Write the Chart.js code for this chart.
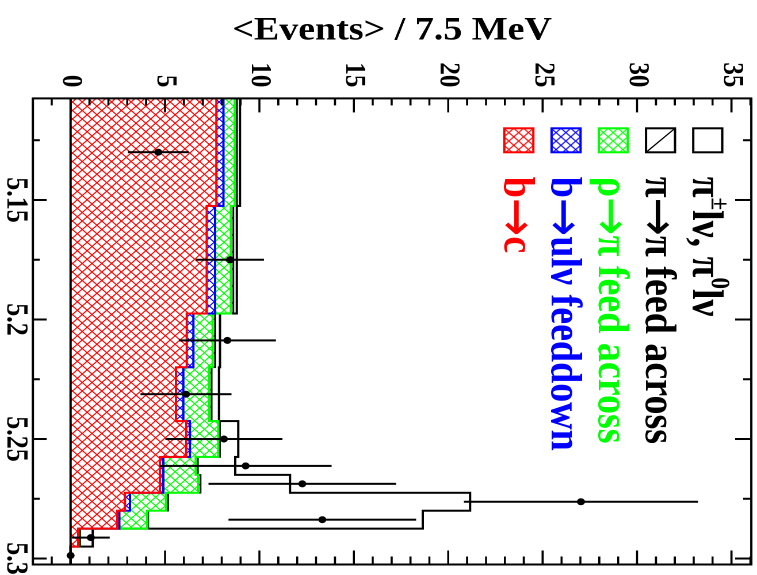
<!DOCTYPE html>
<html>
<head>
<meta charset="utf-8">
<title>&lt;Events&gt; / 7.5 MeV</title>
<script src="https://cdn.jsdelivr.net/npm/chart.js@4.4.1/dist/chart.umd.min.js"></script>
<style>
  html, body { margin: 0; padding: 0; background: #fff; overflow: hidden; }
  body { width: 757px; height: 575px; position: relative; }
  /* the plot is drawn upright (mass along x) and then turned a quarter clockwise,
     slightly stretched along the screen x, like the original picture */
  #wrap { position: absolute; left: 0; top: 0; width: 575px; height: 658px;
          transform-origin: 0 0; transform: translate(757px, 0) scaleX(1.1505) rotate(90deg); }
</style>
</head>
<body>
<div id="wrap"><canvas id="chart" width="575" height="658" style="width:575px;height:658px"></canvas></div>
<script>
const FONT = "'Liberation Serif', 'Times New Roman', serif";
const ARROW_FONT = "'DejaVu Sans', sans-serif";

// variable bin edges in mES (GeV)
const MASS_EDGES = [5.1075, 5.1525, 5.1975, 5.22, 5.2425, 5.2575, 5.265, 5.2725, 5.28, 5.2875, 5.295, 5.3025];

// stacked components, <events> / 7.5 MeV per bin, bottom to top
const B_TO_C      = [7.72, 7.21, 6.15, 5.58, 6.12, 4.73, 4.73, 2.88, 2.47, 0.40, 0];
const B_TO_U_FEED = [0.37, 0.44, 0.35, 0.39, 0.20, 0.18, 0.18, 0.26, 0.11, 0.02, 0];
const RHO_TO_PI   = [0.60, 0.83, 1.02, 1.38, 1.50, 1.71, 1.84, 1.91, 1.48, 0.03, 0];
const PI_TO_PI    = [0.12, 0.14, 0.13, 0.12, 0.09, 0.12, 0.13, 0.11, 0.05, 0.06, 0];
const SIGNAL      = [0.16, 0.18, 0.26, 0.39, 0.97, 1.98, 4.74, 16.00, 14.54, 0.66, 0];

// data points
const DATA_MASS = [5.13, 5.175, 5.20875, 5.23125, 5.25, 5.26125, 5.26875, 5.27625, 5.28375, 5.29125, 5.29875];
const DATA_VAL  = [4.64, 8.44, 8.30, 6.11, 8.12, 9.27, 12.27, 27.03, 13.33, 1.07, 0];
const DATA_ERR  = [1.61, 1.80, 2.57, 2.41, 3.10, 4.55, 4.97, 6.20, 4.97, 1.00, 0];

const EVENT_TICKS = [0, 5, 10, 15, 20, 25, 30, 35];
const MASS_TICKS  = [5.15, 5.2, 5.25, 5.3];
const MASS_LABELS = ['5.15', '5.2', '5.25', '5.3'];

const LEGEND_LABELS = ['π^{±}lν, π^{0}lν', 'π→π feed across', 'ρ→π feed across', 'b→ulν feeddown', 'b→c'];

const RED = '#ff0000', BLUE = '#0000ff', GREEN = '#00ff00', BLACK = '#000000';

// ROOT-like hatch fills, tile drawn at 2x and scaled back
function hatch(color, size, cross, width) {
    const t = Math.round(size * 2);
    const c = document.createElement('canvas');
    c.width = c.height = t;
    const g = c.getContext('2d');
    g.strokeStyle = color;
    g.lineWidth = width * 2;
    g.beginPath();
    for (const o of [-t, 0, t]) {
        g.moveTo(o, 0); g.lineTo(o + t, t);
        if (cross) { g.moveTo(o + t, 0); g.lineTo(o, t); }
    }
    g.stroke();
    const p = g.createPattern(c, 'repeat');
    p.setTransform(new DOMMatrix([0.5, 0, 0, 0.5, 0, 0]));
    return p;
}

const redHatch = hatch(RED, 8.5, true, 1);
const blueHatch = hatch(BLUE, 8.5, true, 1);
const greenHatch = hatch(GREEN, 8.5, true, 1);
const blackHatch = hatch(BLACK, 17, false, 1);

const stepPoints = vals => MASS_EDGES.map((m, i) => ({ x: m, y: vals[Math.min(i, vals.length - 1)] }));

function histo(label, vals, color, bg, fill, width) {
    return {
        label, data: stepPoints(vals), stack: 'mc', stepped: true,
        borderColor: color, borderWidth: width, backgroundColor: bg, fill,
        pointRadius: 0,
    };
}

// tiny TLatex: ^{..} superscripts, wide arrows
function drawRich(ctx, text, x, y, size) {
    const parts = text.split(/(\^\{[^}]*\}|→)/).filter(Boolean);
    for (const p of parts) {
        if (p.startsWith('^{')) {
            const s = p.slice(2, -1);
            ctx.font = `bold ${Math.round(size * 0.6)}px ${FONT}`;
            ctx.fillText(s, x, y - size * 0.42);
            x += ctx.measureText(s).width;
        } else if (p === '→') {
            ctx.font = `${Math.round(size * 1.2)}px ${ARROW_FONT}`;
            ctx.fillText(p, x, y + 4);
            x += ctx.measureText(p).width;
        } else {
            ctx.font = `bold ${size}px ${FONT}`;
            ctx.fillText(p, x, y);
            x += ctx.measureText(p).width;
        }
    }
}

const rootFrame = {
    id: 'rootFrame',
    afterDatasetsDraw(chart) {
        const { ctx, chartArea: a, scales: { x, y } } = chart;
        ctx.save();
        ctx.strokeStyle = BLACK;

        // histogram base line at zero
        ctx.lineWidth = 2;
        ctx.beginPath();
        ctx.moveTo(a.left, y.getPixelForValue(0));
        ctx.lineTo(a.right, y.getPixelForValue(0));
        ctx.stroke();

        // data error bars
        ctx.lineWidth = 2;
        DATA_MASS.forEach((m, i) => {
            if (!DATA_ERR[i]) return;
            const px = x.getPixelForValue(m);
            ctx.beginPath();
            ctx.moveTo(px, y.getPixelForValue(DATA_VAL[i] - DATA_ERR[i]));
            ctx.lineTo(px, y.getPixelForValue(DATA_VAL[i] + DATA_ERR[i]));
            ctx.stroke();
        });
        ctx.restore();
    },
    afterDraw(chart) {
        const { ctx, chartArea: a, scales: { x, y } } = chart;
        ctx.save();
        ctx.strokeStyle = BLACK;

        // frame
        ctx.lineWidth = 2;
        ctx.strokeRect(a.left, a.top, a.right - a.left, a.bottom - a.top);

        // ticks inside the frame on every side
        ctx.lineWidth = 1.8;
        ctx.beginPath();
        for (let v = -1; v <= 36; v++) {
            const major = EVENT_TICKS.includes(v);
            const py = y.getPixelForValue(v);
            ctx.moveTo(a.left, py); ctx.lineTo(a.left + (major ? 14 : 7), py);
            ctx.moveTo(a.right, py); ctx.lineTo(a.right - (major ? 14 : 8), py);
        }
        ctx.stroke();
        ctx.lineWidth = 2;
        ctx.beginPath();
        for (let k = 1; k <= 8; k++) {
            const m = 5.1 + k * 0.025;
            const major = MASS_TICKS.some(t => Math.abs(t - m) < 1e-6);
            const px = x.getPixelForValue(m);
            ctx.moveTo(px, a.bottom); ctx.lineTo(px, a.bottom - (major ? 12 : 6));
            ctx.moveTo(px, a.top); ctx.lineTo(px, a.top + (major ? 14 : 7));
        }
        ctx.stroke();

        // legend
        const items = [
            { fill: null, text: BLACK, line: BLACK },
            { fill: null, diag: true, text: BLACK, line: BLACK },
            { fill: greenHatch, text: GREEN, line: GREEN },
            { fill: blueHatch, text: BLUE, line: BLUE },
            { fill: redHatch, text: RED, line: RED },
        ];
        const bx = 128.3, bw = 24, bh = 25.2, top0 = 30.2, step = 41.05, tx = 176.7;
        items.forEach((it, i) => {
            const by = top0 + i * step;
            if (it.fill) {
                ctx.save();
                ctx.translate(bx, by);
                ctx.fillStyle = it.fill;
                ctx.fillRect(0, 0, bw, bh);
                ctx.restore();
            }
            ctx.strokeStyle = it.line;
            ctx.lineWidth = 2;
            ctx.strokeRect(bx, by, bw, bh);
            if (it.diag) {
                ctx.lineWidth = 1.2;
                ctx.beginPath();
                ctx.moveTo(bx, by); ctx.lineTo(bx + bw, by + bh);
                ctx.stroke();
            }
            ctx.fillStyle = it.text;
            ctx.textBaseline = 'alphabetic';
            ctx.textAlign = 'left';
            drawRich(ctx, LEGEND_LABELS[i], tx, by + bh, 38);
        });
        ctx.restore();
    },
};

new Chart(document.getElementById('chart'), {
    type: 'line',
    data: {
        datasets: [
            {
                label: 'data',
                data: DATA_MASS.map((m, i) => ({ x: m, y: DATA_VAL[i] })),
                stack: 'data', showLine: false, fill: false,
                pointRadius: 3.5, pointBackgroundColor: BLACK, pointBorderColor: BLACK, pointBorderWidth: 0,
            },
            histo('b→c', B_TO_C, RED, redHatch, 'origin', 2),
            histo('b→ulν feeddown', B_TO_U_FEED, BLUE, blueHatch, '-1', 2),
            histo('ρ→π feed across', RHO_TO_PI, GREEN, greenHatch, '-1', 2),
            histo('π→π feed across', PI_TO_PI, BLACK, blackHatch, '-1', 1.5),
            histo('π±lν, π0lν', SIGNAL, BLACK, 'rgba(0,0,0,0)', false, 2),
        ],
    },
    options: {
        responsive: false,
        animation: false,
        devicePixelRatio: 2,
        events: [],
        layout: { padding: { top: 4.95, right: 10.5, left: 0, bottom: 0 } },
        plugins: { legend: { display: false }, tooltip: { enabled: false } },
        scales: {
            x: {
                type: 'linear', min: 5.1075, max: 5.3025,
                grid: { display: false, drawTicks: false }, border: { display: false },
                afterBuildTicks: s => { s.ticks = MASS_TICKS.map(v => ({ value: v })); },
                ticks: {
                    padding: 0, color: BLACK, autoSkip: false, maxRotation: 0,
                    font: { family: FONT, size: 26, weight: 'bold' },
                    callback: (v, i) => MASS_LABELS[i],
                },
                afterFit: s => { s.height = 28.6; s.paddingLeft = 0; s.paddingRight = 0; },
            },
            y: {
                type: 'linear', min: -2, max: 36.05, stacked: true,
                grid: { display: false, drawTicks: false }, border: { display: false },
                afterBuildTicks: s => { s.ticks = EVENT_TICKS.map(v => ({ value: v })); },
                ticks: {
                    padding: 11, color: BLACK,
                    font: { family: FONT, size: 25, weight: 'bold' },
                },
                title: {
                    display: true, text: '<Events> / 7.5 MeV', color: BLACK,
                    font: { family: FONT, size: 33, weight: 'bold' },
                    padding: { top: 11, bottom: 0 },
                },
                afterFit: s => { s.width = 98.4; s.paddingTop = 0; s.paddingBottom = 0; },
            },
        },
    },
    plugins: [rootFrame],
});
</script>
</body>
</html>
